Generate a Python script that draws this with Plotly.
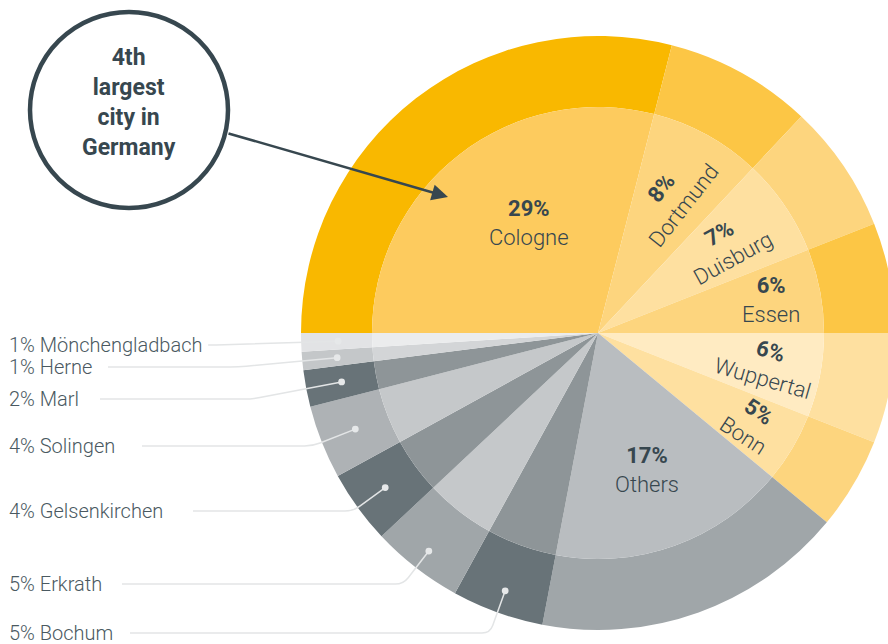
import math
import plotly.graph_objects as go

# ---------------- data ----------------
cities = ["Cologne", "Dortmund", "Duisburg", "Essen", "Wuppertal", "Bonn", "Others",
          "Bochum", "Erkrath", "Gelsenkirchen", "Solingen", "Marl", "Herne", "Mönchengladbach"]
shares = [29, 8, 7, 6, 6, 5, 17, 5, 5, 4, 4, 2, 1, 1]
callout_text = "4th<br>largest<br>city in<br>Germany"

# ---------------- styles ----------------
inner_colors = ["#FDCB5E", "#FDD57E", "#FEE0A0", "#FDD57E", "#FFEBC2", "#FEE0A0", "#B9BDC0",
                "#8E9598", "#C5C8CA", "#8E9598", "#C5C8CA", "#8E9598", "#D3D5D7", "#EBECED"]
outer_colors = ["#F9B800", "#FCC645", "#FDD57E", "#FCC645", "#FEE0A0", "#FDD57E", "#A0A6A9",
                "#687378", "#A0A6A9", "#687378", "#AEB2B5", "#687378", "#C4C7C9", "#E2E3E5"]
DARK = "#37474F"
LABEL_COL = "#4A5961"
LINE_COL = "#E3E5E6"
FONT = "Roboto"

# ---------------- layout geometry (pixels) ----------------
# figure is slightly wider than the 888px window so the pie is cut at the right edge
W, H = 896, 644
CX, CY = 598, 333
R_OUT, R_IN = 297, 226

# inner label placement: radius, angle nudge, text angle (first 7 slices)
inner_label_r = [130, 155, 155, 176, 172, 178, 146]
inner_label_nudge = [6, 0, 0, 0, 0, 0, 0]
inner_label_angle = [0, -52, -29, 0, 16, 33, 0]

# outer (left) label placement (slices 7..13)
outer_label_y = [633, 584, 511, 446, 399, 367, 345]
outer_line_x = [130, 122, 193, 142, 100, 108, 213]
outer_dot_r = [274, 276, 263, 261, 261, 262, 260]


def P(x, y):
    return x / W, 1 - y / H


def polar_pt(theta_deg, r):
    t = math.radians(theta_deg)
    return CX - r * math.cos(t), CY - r * math.sin(t)


total = float(sum(shares))
mids = []
acc = 0.0
for s in shares:
    mids.append(360.0 * (acc + s / 2.0) / total)
    acc += s


def dom(r):
    x0, x1 = (CX - r) / W, (CX + r) / W
    y0, y1 = (H - CY - r) / H, (H - CY + r) / H
    return dict(x=[max(0, x0), min(1, x1)], y=[max(0, y0), min(1, y1)])


fig = go.Figure()
fig.add_trace(go.Pie(values=shares, labels=cities, sort=False, direction="clockwise",
                     rotation=270, hole=R_IN / R_OUT, domain=dom(R_OUT),
                     marker=dict(colors=outer_colors, line=dict(width=0)),
                     textinfo="none", hoverinfo="skip", showlegend=False))
fig.add_trace(go.Pie(values=shares, labels=cities, sort=False, direction="clockwise",
                     rotation=270, hole=0, domain=dom(R_IN),
                     marker=dict(colors=inner_colors, line=dict(width=0)),
                     textinfo="none", hoverinfo="skip", showlegend=False))

annotations = []
shapes = []

# inner labels
for i in range(7):
    x, y = polar_pt(mids[i] + inner_label_nudge[i], inner_label_r[i])
    px, py = P(x, y)
    annotations.append(dict(
        x=px, y=py, xref="paper", yref="paper", showarrow=False,
        text=f"<b>{shares[i]}%</b><br>{cities[i]}", textangle=inner_label_angle[i],
        font=dict(family=FONT, size=22, color=DARK, weight=300),
        xanchor="center", yanchor="middle", align="center"))

# outer labels with leader lines and dots
for k, i in enumerate(range(7, len(cities))):
    th = mids[i]
    dx0, dy0 = polar_pt(th, outer_dot_r[k])
    t = math.radians(th)
    ux, uy = -math.cos(t), -math.sin(t)
    ly = outer_label_y[k]
    tt = (ly - dy0) / uy if abs(uy) > 1e-6 else 0
    kx, ky = dx0 + ux * tt, ly
    rc = min(8, tt)
    ax_, ay_ = kx - ux * rc, ky - uy * rc
    bx_, by_ = kx - rc, ly
    pts = [P(dx0, dy0), P(ax_, ay_), P(kx, ky), P(bx_, by_), P(outer_line_x[k], ly)]
    path = (f"M {pts[0][0]:.5f},{pts[0][1]:.5f} L {pts[1][0]:.5f},{pts[1][1]:.5f} "
            f"Q {pts[2][0]:.5f},{pts[2][1]:.5f} {pts[3][0]:.5f},{pts[3][1]:.5f} "
            f"L {pts[4][0]:.5f},{pts[4][1]:.5f}")
    shapes.append(dict(type="path", xref="paper", yref="paper", path=path,
                       line=dict(color=LINE_COL, width=1.5), layer="above"))
    rd = 3.4
    c0 = P(dx0 - rd, dy0 + rd)
    c1 = P(dx0 + rd, dy0 - rd)
    shapes.append(dict(type="circle", xref="paper", yref="paper",
                       x0=c0[0], y0=c0[1], x1=c1[0], y1=c1[1],
                       fillcolor="#E6E8E9", line=dict(width=0), layer="above"))
    lx, lyp = P(7, ly)
    annotations.append(dict(
        x=lx, y=lyp, xref="paper", yref="paper", showarrow=False,
        text=f"{shares[i]}% {cities[i]}",
        font=dict(family=FONT, size=20, color=LABEL_COL, weight=300),
        xanchor="left", yanchor="middle"))

# callout circle
c0 = P(30, 208)
c1 = P(228, 12)
shapes.append(dict(type="circle", xref="paper", yref="paper",
                   x0=c0[0], y0=c0[1], x1=c1[0], y1=c1[1],
                   line=dict(color=DARK, width=4.5), fillcolor="rgba(0,0,0,0)", layer="above"))
tx, ty = P(129, 102)
annotations.append(dict(x=tx, y=ty, xref="paper", yref="paper", showarrow=False,
                        text=f"<b>{callout_text}</b>",
                        font=dict(family=FONT, size=23, color=DARK),
                        xanchor="center", yanchor="middle", align="center"))
# arrow to Cologne (tail offset in pixels)
hx, hy = P(448, 197)
annotations.append(dict(x=hx, y=hy, xref="paper", yref="paper", ax=227 - 448, ay=133 - 197,
                        axref="pixel", ayref="pixel", text="", showarrow=True,
                        arrowhead=2, arrowsize=1.3, arrowwidth=2.5, arrowcolor=DARK,
                        standoff=0, startstandoff=0))

fig.update_layout(width=W, height=H, margin=dict(l=0, r=0, t=0, b=0, pad=0),
                  paper_bgcolor="white", plot_bgcolor="white", showlegend=False,
                  hovermode=False, annotations=annotations, shapes=shapes)

fig.write_html("out.html", config={"displayModeBar": False}, post_script=(
    "document.body.style.margin='0';"
    "document.body.style.overflow='hidden';"
    "document.documentElement.style.overflow='hidden';"))
